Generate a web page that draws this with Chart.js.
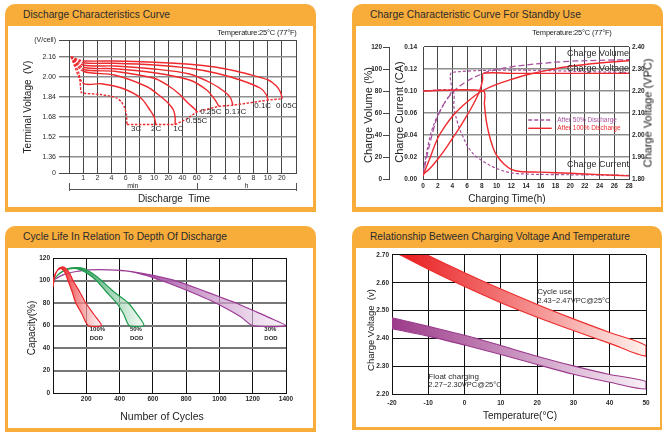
<!DOCTYPE html>
<html>
<head>
<meta charset="utf-8">
<title>Battery characteristics</title>
<script src="https://cdn.jsdelivr.net/npm/chart.js@4.4.1/dist/chart.umd.min.js"></script>
<style>
  html, body { margin: 0; padding: 0; background: #fff; }
  body { position: relative; width: 668px; height: 439px; overflow: hidden; font-family: "Liberation Sans", Arial, sans-serif; color: #222; }
  .panel { position: absolute; background: #f8ad3b; border-radius: 10px 10px 0 0; }
  .panel .title { position: absolute; top: 4px; font-size: 11.5px; line-height: 12px; white-space: nowrap; transform-origin: 0 50%; color: #2b2b2b; }
  .panel .body { position: absolute; background: #fff; }
  .panel canvas { position: absolute; left: 0; top: 0; }
  .t { position: absolute; z-index: 2; color: #222; white-space: nowrap; line-height: 1; transform: translate(-50%, -50%); }
  .v { transform: translate(-50%, -50%) rotate(-90deg); }
</style>
</head>
<body>

<div class="panel" style="left:5px;top:4px;width:311px;height:208px">
  <div class="title" style="left:18px" data-w="147">Discharge Characteristics Curve</div>
  <div class="body" style="left:3px;top:22px;width:305px;height:181px"><canvas id="c1" width="305" height="181"></canvas></div>
</div>
<div class="panel" style="left:352px;top:4px;width:311px;height:208px">
  <div class="title" style="left:18px" data-w="211">Charge Characteristic Curve For Standby Use</div>
  <div class="body" style="left:4px;top:22px;width:305px;height:181px"><canvas id="c2" width="305" height="181"></canvas></div>
</div>
<div class="panel" style="left:5px;top:226px;width:311px;height:206px">
  <div class="title" style="left:18px" data-w="204">Cycle Life In Relation To Depth Of Discharge</div>
  <div class="body" style="left:3px;top:22px;width:305px;height:180px"><canvas id="c3" width="305" height="180"></canvas></div>
</div>
<div class="panel" style="left:352px;top:226px;width:310px;height:204px">
  <div class="title" style="left:18px" data-w="260">Relationship Between Charging Voltage And Temperature</div>
  <div class="body" style="left:4px;top:22px;width:304px;height:179px"><canvas id="c4" width="304" height="179"></canvas></div>
</div>

<!-- axis titles and notes -->
<div class="t v" style="left:28px;top:107px;font-size:10px">Terminal Voltage&nbsp; (V)</div>
<div class="t" style="left:174px;top:199px;font-size:10px">Discharge&nbsp; Time</div>
<div class="t" style="left:257px;top:33px;font-size:7.5px;letter-spacing:-0.2px">Temperature:25°C (77°F)</div>

<div class="t v" style="left:368px;top:115px;font-size:11px">Charge Volume (%)</div>
<div class="t v" style="left:399px;top:112px;font-size:11px">Charge Current (CA)</div>
<div class="t v" style="left:648px;top:113px;font-size:11px;color:#111">Charge Voltage (VPC)</div>
<div class="t" style="left:507px;top:199px;font-size:10px">Charging Time(h)</div>
<div class="t" style="left:572px;top:33px;font-size:7.5px;letter-spacing:-0.2px">Temperature:25°C (77°F)</div>

<div class="t v" style="left:32px;top:328px;font-size:10px">Capacity(%)</div>
<div class="t" style="left:162px;top:416px;font-size:10.5px">Number of Cycles</div>

<div class="t v" style="left:371px;top:330px;font-size:9.5px">Charge Voltage&nbsp; (v)</div>
<div class="t" style="left:520px;top:416px;font-size:10px">Temperature(°C)</div>

<script>
// ---------- Discharge characteristics (x = position on the min/h time axis, y = V/cell)
const timeTickLabels = ['', '1', '2', '4', '6', '8', '10', '20', '40', '60', '2', '4', '6', '8', '10', '20', ''];
const voltTickValues = [1.232, 1.36, 1.52, 1.68, 1.84, 2.00, 2.16, 2.296];
const voltTickLabels = ['0', '1.36', '1.52', '1.68', '1.84', '2.00', '2.16', '(V/cell)'];
const rateLabels = ['3C', '2C', '1C', '0.55C', '0.25C', '0.17C', '0.1C', '0.05C'];
const rateLabelX = [4.73, 6.14, 7.71, 9.0, 10.0, 11.75, 13.65, 15.35];
const rateLabelV = [1.586, 1.586, 1.586, 1.65, 1.722, 1.722, 1.768, 1.768];

const dis3C = [[0.15, 2.16], [0.7, 2.03], [0.85, 1.88], [1, 1.87], [2.2, 1.86], [3, 1.845], [3.4, 1.83], [3.7, 1.8], [3.9, 1.76], [4.05, 1.7], [4.08, 1.62]];
const dis2C = [[0.15, 2.16], [1, 1.95], [2.27, 1.946], [3.75, 1.91], [5.08, 1.83], [5.7, 1.736], [6.0, 1.68], [6.12, 1.62]];
const dis1C = [[0.15, 2.16], [1, 2.046], [3.2, 2.016], [5.5, 1.922], [6.5, 1.84], [7, 1.79], [7.36, 1.736], [7.48, 1.68], [7.48, 1.62]];
const dis055C = [[0.15, 2.16], [1, 2.062], [3.2, 2.046], [6, 1.99], [7, 1.93], [7.7, 1.87], [8.5, 1.78], [8.9, 1.74], [9, 1.72]];
const dis025C = [[0.15, 2.16], [1, 2.078], [3.2, 2.066], [6, 2.034], [8.5, 1.976], [9.7, 1.896], [10.3, 1.816], [10.56, 1.766]];
const dis017C = [[0.15, 2.16], [1, 2.096], [3.2, 2.088], [6, 2.064], [8.5, 2.024], [10.04, 1.95], [10.97, 1.882], [11.4, 1.83], [11.55, 1.774]];
const dis01C = [[0.15, 2.16], [1, 2.114], [3.2, 2.11], [6, 2.096], [8.5, 2.07], [10.4, 2.03], [12.07, 1.976], [13.5, 1.91], [13.9, 1.86], [14.03, 1.815]];
const dis005C = [[0.15, 2.16], [1, 2.13], [3.2, 2.128], [6, 2.118], [8.5, 2.102], [10.4, 2.078], [11.4, 2.056], [12.6, 2.024], [14.05, 1.976], [14.6, 1.93], [14.9, 1.88], [15.03, 1.826]];
const endVoltage = [[4.08, 1.62], [6.12, 1.62], [7.48, 1.62], [8.3, 1.665], [9, 1.72], [10.56, 1.766], [11.55, 1.774], [14.03, 1.815], [15.03, 1.826]];

// ---------- Standby charge (x = hours)
const currentTickLabels = ['0.00', '0.02', '0.04', '0.06', '0.10', '0.12', '0.14'];
const volume100 = [[0, 3], [1, 20], [2, 37], [3, 48], [4, 57], [5, 64], [6, 70], [7, 75.5], [8, 80], [10, 86], [12, 90.5], [14, 94.5], [17, 99], [20, 102.5], [24, 105.5], [28, 107.5]];
const volume50 = [[0, 3], [0.5, 20], [1, 34], [1.5, 47], [2, 57], [3, 70], [4, 78.5], [5, 84.5], [6, 89], [8, 95.5], [10, 99.5], [12, 102], [16, 105], [20, 107], [28, 108.5]];
const voltage100 = [[0, 1.82], [1, 1.85], [2, 1.89], [3, 1.935], [4, 1.985], [5, 2.035], [6, 2.09], [7, 2.15], [7.7, 2.2], [8.1, 2.25], [8.2, 2.28], [12, 2.28], [28, 2.28]];
const voltage50 = [[0, 1.82], [0.5, 1.92], [1, 2.0], [1.5, 2.05], [2, 2.09], [2.5, 2.12], [3, 2.15], [3.5, 2.175], [3.9, 2.2], [4, 2.285], [28, 2.285]];
const current100 = [[0, 0.1], [8.2, 0.1], [8.35, 0.085], [8.6, 0.066], [9, 0.05], [9.5, 0.036], [10, 0.027], [11, 0.017], [12, 0.011], [13.2, 0.0085], [16, 0.0078], [20, 0.0065], [24, 0.005], [28, 0.0035]];
const current50 = [[0, 0.1], [4, 0.1], [4.2, 0.082], [4.5, 0.07], [5, 0.056], [5.5, 0.047], [6, 0.038], [7, 0.027], [8, 0.021], [9, 0.016], [10, 0.012], [11, 0.009], [12, 0.007], [13.5, 0.0058], [16, 0.0052], [20, 0.0048], [28, 0.0042]];

// ---------- Cycle life (x = cycles, y = capacity %)
const dod100Outer = [[0, 94], [10, 103], [30, 110], [52, 112], [75, 111], [100, 106.5], [120, 100], [160, 90], [197, 80], [245, 70], [291, 60]];
const dod100Inner = [[0, 100], [12, 105.5], [30, 109.5], [50, 110.5], [70, 107.5], [90, 100], [115, 90], [137, 80], [175, 70], [211, 60]];
const dod50Outer = [[0, 100], [40, 106.5], [90, 110.5], [141, 111.5], [190, 110.5], [240, 106], [291, 100], [350, 92], [400, 86], [452, 80], [500, 71], [546, 60]];
const dod50Inner = [[0, 100], [30, 105], [70, 109], [110, 110.5], [150, 110.3], [200, 107], [261, 100], [320, 90], [382, 80], [425, 70], [458, 60]];
const dod30Outer = [[0, 100], [60, 105], [140, 108], [220, 109.4], [281, 109.7], [380, 109.2], [482, 107.8], [602, 104.5], [743, 99.5], [884, 92], [1000, 85.5], [1100, 80], [1200, 73.5], [1300, 67], [1400, 60]];
const dod30Inner = [[0, 100], [60, 105], [140, 108], [220, 109.4], [281, 109.7], [380, 109.2], [482, 107.5], [560, 104.5], [650, 100], [750, 94.5], [850, 88.5], [950, 82], [1050, 74.5], [1130, 67.5], [1199, 60]];

// ---------- Charge voltage vs temperature (x = °C, y = V)
const cycleUseUpper = [[-20, 2.765], [-10, 2.698], [0, 2.636], [10, 2.577], [20, 2.522], [30, 2.47], [40, 2.421], [50, 2.374]];
const cycleUseLower = [[-20, 2.715], [-10, 2.648], [0, 2.586], [10, 2.528], [20, 2.476], [30, 2.428], [40, 2.382], [50, 2.336]];
const floatUpper = [[-20, 2.474], [-10, 2.443], [0, 2.411], [10, 2.374], [20, 2.336], [30, 2.301], [40, 2.27], [50, 2.245]];
const floatLower = [[-20, 2.435], [-10, 2.408], [0, 2.376], [10, 2.342], [20, 2.306], [30, 2.271], [40, 2.242], [50, 2.218]];

const FONT = '"Liberation Sans", Arial, sans-serif';
const RED = '#ee2a2f';
const PURPLE = '#a8529e';
const GRID_DARK = '#474747';
const GRID_GRAY = '#8e8e8e';

Chart.defaults.font.family = FONT;
Chart.defaults.color = '#2a2a2a';
Chart.defaults.animation = false;
Chart.defaults.responsive = false;
Chart.defaults.events = [];
Chart.defaults.plugins.legend.display = false;
Chart.defaults.plugins.tooltip.enabled = false;
Chart.defaults.elements.point.radius = 0;
Chart.defaults.elements.line.borderWidth = 1.4;

const xy = arr => arr.map(([x, y]) => ({ x, y }));
const band = (upper, lower) => xy([...upper, ...lower.slice().reverse()]);

// fits panel titles to the measured width of the reference lettering
document.querySelectorAll('[data-w]').forEach(el => {
  const w = el.getBoundingClientRect().width;
  el.style.transform = `scaleX(${el.dataset.w / w})`;
});

function textLayer(items, xId = 'x', yId = 'y') {
  return {
    id: 'textLayer',
    afterDatasetsDraw(chart) {
      const { ctx } = chart;
      const xs = chart.scales[xId], ys = chart.scales[yId];
      ctx.save();
      ctx.textBaseline = 'middle';
      items.forEach(it => {
        ctx.font = it.font;
        ctx.fillStyle = it.color || '#2a2a2a';
        ctx.textAlign = it.align || 'center';
        ctx.fillText(it.text, xs.getPixelForValue(it.x), ys.getPixelForValue(it.y));
      });
      ctx.restore();
    }
  };
}

function hGradient(from, to, x0, x1) {
  return c => {
    const { chart } = c;
    if (!chart.chartArea) return to;
    const xs = chart.scales.x;
    const g = chart.ctx.createLinearGradient(xs.getPixelForValue(x0), 0, xs.getPixelForValue(x1), 0);
    g.addColorStop(0, from);
    g.addColorStop(1, to);
    return g;
  };
}

const edgeTick = n => c => c.index === 0 || c.index === n - 1;

// ================= 1. Discharge characteristics =================
const minHourBracket = {
  id: 'minHourBracket',
  afterDraw(chart) {
    const { ctx, chartArea } = chart;
    const xs = chart.scales.x;
    const y = chartArea.bottom + 16;
    const xa = xs.getPixelForValue(0), xm = xs.getPixelForValue(9), xb = xs.getPixelForValue(16);
    ctx.save();
    ctx.strokeStyle = '#555';
    ctx.lineWidth = 1;
    ctx.beginPath();
    ctx.moveTo(xa, y + 0.5);
    ctx.lineTo(xb, y + 0.5);
    [xa, xm, xb].forEach(x => {
      ctx.moveTo(Math.round(x) + 0.5, y - 6);
      ctx.lineTo(Math.round(x) + 0.5, y + (x === xm ? 0 : 2));
    });
    ctx.stroke();
    ctx.font = '7px ' + FONT;
    ctx.fillStyle = '#2a2a2a';
    ctx.textAlign = 'center';
    ctx.textBaseline = 'middle';
    ctx.fillText('min', (xa + xm) / 2, y - 3);
    ctx.fillText('h', (xm + xb) / 2, y - 3);
    ctx.restore();
  }
};

const solidCurves = [dis2C, dis1C, dis055C, dis025C, dis017C, dis01C, dis005C];
const fanDash = { borderDash: c => (c.p0DataIndex === 0 ? [2.5, 1.5] : undefined) };
const n1 = edgeTick(voltTickValues.length);

new Chart(document.getElementById('c1'), {
  type: 'line',
  data: {
    datasets: [
      ...solidCurves.map((d, i) => ({
        label: rateLabels[i + 1], data: xy(d), borderColor: RED, tension: 0.3, segment: fanDash
      })),
      { label: '3C', data: xy(dis3C), borderColor: RED, borderDash: [2.5, 1.5], tension: 0.2 },
      { label: 'End voltage', data: xy(endVoltage), borderColor: RED, borderDash: [2.5, 1.5], tension: 0 }
    ]
  },
  options: {
    devicePixelRatio: 1,
    layout: { padding: { top: 14, right: 17, left: 0, bottom: 0 } },
    scales: {
      x: {
        type: 'linear', min: 0, max: 16,
        afterBuildTicks: s => { s.ticks = timeTickLabels.map((_, i) => ({ value: i })); },
        afterFit: s => { s.height = 34; },
        ticks: { callback: (v, i) => timeTickLabels[i], font: { size: 7 }, padding: 1, maxRotation: 0, autoSkip: false },
        grid: { color: GRID_DARK, lineWidth: 1, drawTicks: false },
        border: { color: GRID_DARK }
      },
      y: {
        type: 'linear', min: voltTickValues[0], max: voltTickValues[voltTickValues.length - 1],
        afterBuildTicks: s => { s.ticks = voltTickValues.map(v => ({ value: v })); },
        afterFit: s => { s.width = 61; },
        ticks: { callback: (v, i) => voltTickLabels[i], font: { size: 7 }, padding: 3, autoSkip: false },
        grid: {
          color: c => (n1(c) ? GRID_DARK : GRID_GRAY),
          lineWidth: c => (n1(c) ? 1 : 1.6),
          tickLength: 10, tickColor: GRID_DARK, tickWidth: 1
        },
        border: { color: GRID_DARK }
      }
    }
  },
  plugins: [
    minHourBracket,
    textLayer(rateLabels.map((t, i) => ({ text: t, x: rateLabelX[i], y: rateLabelV[i], font: '8px ' + FONT })))
  ]
});

// ================= 2. Standby charge =================
const chargeLegend = {
  id: 'chargeLegend',
  afterDatasetsDraw(chart) {
    const { ctx } = chart;
    const xs = chart.scales.x, ys = chart.scales.yVol;
    const rows = [
      { text: 'After 50% Discharge', color: PURPLE, dash: [4, 2], y: 53.6 },
      { text: 'After 100% Discharge', color: RED, dash: [], y: 46.1 }
    ];
    ctx.save();
    ctx.font = '6.5px ' + FONT;
    ctx.textBaseline = 'middle';
    ctx.textAlign = 'left';
    rows.forEach(r => {
      const y = ys.getPixelForValue(r.y);
      ctx.strokeStyle = r.color;
      ctx.lineWidth = 1.4;
      ctx.setLineDash(r.dash);
      ctx.beginPath();
      ctx.moveTo(xs.getPixelForValue(14.3), y);
      ctx.lineTo(xs.getPixelForValue(17.5), y);
      ctx.stroke();
      ctx.fillStyle = r.color;
      ctx.fillText(r.text, xs.getPixelForValue(18.25), y);
    });
    ctx.restore();
  }
};

const n2 = edgeTick(currentTickLabels.length);

new Chart(document.getElementById('c2'), {
  type: 'line',
  data: {
    datasets: [
      { label: 'Current 100%', data: xy(current100), yAxisID: 'yCur', borderColor: RED, tension: 0.3 },
      { label: 'Voltage 100%', data: xy(voltage100), yAxisID: 'yVolt', borderColor: RED, tension: 0.3 },
      { label: 'Volume 100%', data: xy(volume100), yAxisID: 'yVol', borderColor: RED, tension: 0.4 },
      { label: 'Current 50%', data: xy(current50), yAxisID: 'yCur', borderColor: PURPLE, borderWidth: 1.2, borderDash: [3, 2], tension: 0.3 },
      { label: 'Voltage 50%', data: xy(voltage50), yAxisID: 'yVolt', borderColor: PURPLE, borderWidth: 1.2, borderDash: [3, 2], tension: 0.3 },
      { label: 'Volume 50%', data: xy(volume50), yAxisID: 'yVol', borderColor: PURPLE, borderWidth: 1.3, borderDash: [6, 3], tension: 0.4 }
    ]
  },
  options: {
    devicePixelRatio: 1,
    layout: { padding: { top: 21, right: 0, left: 0, bottom: 0 } },
    scales: {
      x: {
        type: 'linear', min: 0, max: 28,
        afterFit: s => { s.height = 28; },
        ticks: { stepSize: 2, font: { size: 6.5, weight: 'bold' }, padding: 3, maxRotation: 0, autoSkip: false },
        grid: { color: GRID_DARK, lineWidth: 1, drawTicks: false },
        border: { color: GRID_DARK }
      },
      yVol: {
        type: 'linear', position: 'left', weight: 1, min: 0, max: 120,
        afterFit: s => { s.width = 33; },
        ticks: { stepSize: 20, font: { size: 6.5, weight: 'bold' }, padding: 1 },
        grid: { drawOnChartArea: false, tickLength: 6, tickColor: GRID_DARK },
        border: { color: GRID_DARK }
      },
      yCur: {
        type: 'linear', position: 'left', weight: 0, min: 0, max: 0.15,
        afterBuildTicks: s => { s.ticks = currentTickLabels.map((_, i) => ({ value: i * 0.025 })); },
        afterFit: s => { s.width = 34; },
        ticks: { callback: (v, i) => currentTickLabels[i], font: { size: 6.5, weight: 'bold' }, padding: 6, autoSkip: false },
        grid: {
          color: c => (n2(c) ? GRID_DARK : GRID_GRAY),
          lineWidth: c => (n2(c) ? 1 : 1.6),
          drawTicks: false
        },
        border: { color: GRID_DARK }
      },
      yVolt: {
        type: 'linear', position: 'right', min: 1.8, max: 2.4,
        afterFit: s => { s.width = 32; },
        ticks: { stepSize: 0.1, callback: v => v.toFixed(2), font: { size: 6.5, weight: 'bold' }, padding: 3 },
        grid: { drawOnChartArea: false, drawTicks: false },
        border: { color: GRID_DARK }
      }
    }
  },
  plugins: [
    chargeLegend,
    textLayer([
      { text: 'Charge Volume', x: 28, y: 114.3, align: 'right', font: '9px ' + FONT },
      { text: 'Charge Voltage', x: 28, y: 100.6, align: 'right', font: '9px ' + FONT },
      { text: 'Charge Current', x: 28, y: 13.4, align: 'right', font: '9px ' + FONT }
    ], 'x', 'yVol')
  ]
});

// ================= 3. Cycle life =================
const dodBands = [
  { label: '100% DOD', outer: dod100Outer, inner: dod100Inner, line: '#e8262c', from: 'rgba(236,40,44,0.95)', to: 'rgba(253,232,232,0.55)', g0: 60, g1: 291 },
  { label: '50% DOD', outer: dod50Outer, inner: dod50Inner, line: '#1e9a4c', from: 'rgba(30,150,80,0.95)', to: 'rgba(232,246,236,0.55)', g0: 150, g1: 546 },
  { label: '30% DOD', outer: dod30Outer, inner: dod30Inner, line: '#9c3c97', from: 'rgba(150,55,150,0.95)', to: 'rgba(245,232,245,0.55)', g0: 480, g1: 1400 }
];
const dodLabelX = [221, 462, 1270];
const n3 = edgeTick(7);

new Chart(document.getElementById('c3'), {
  type: 'line',
  data: {
    datasets: dodBands.map(b => ({
      label: b.label, data: band(b.outer, b.inner), borderColor: b.line, borderWidth: 1.2,
      backgroundColor: hGradient(b.from, b.to, b.g0, b.g1), fill: 'shape', tension: 0.25
    }))
  },
  options: {
    devicePixelRatio: 1,
    layout: { padding: { top: 10, right: 27, left: 0, bottom: 0 } },
    scales: {
      x: {
        type: 'linear', min: 0, max: 1400,
        afterFit: s => { s.height = 35; },
        ticks: { stepSize: 200, callback: v => (v === 0 ? '' : v), font: { size: 6.5, weight: 'bold' }, padding: 2, maxRotation: 0 },
        grid: { color: '#111', lineWidth: 1, drawTicks: false },
        border: { color: '#111' }
      },
      y: {
        type: 'linear', min: 0, max: 120,
        afterFit: s => { s.width = 45; },
        ticks: { stepSize: 20, font: { size: 6.5, weight: 'bold' }, padding: 3 },
        grid: { color: c => (n3(c) ? '#111' : '#777'), lineWidth: c => (n3(c) ? 1 : 2), drawTicks: false },
        border: { color: '#111' }
      }
    }
  },
  plugins: [
    textLayer(dodBands.flatMap((b, i) => [
      { text: b.label.split(' ')[0], x: dodLabelX[i], y: 56.3, align: 'left', font: 'bold 6px ' + FONT },
      { text: 'DOD', x: dodLabelX[i], y: 49, align: 'left', font: 'bold 6px ' + FONT }
    ]))
  ]
});

// ================= 4. Charging voltage vs temperature =================
new Chart(document.getElementById('c4'), {
  type: 'line',
  data: {
    datasets: [
      {
        label: 'Cycle use', data: band(cycleUseUpper, cycleUseLower), borderColor: '#ee2b2b', borderWidth: 1.1,
        backgroundColor: hGradient('rgb(234,36,38)', 'rgb(254,242,238)', -15, 50), fill: 'shape', tension: 0.3
      },
      {
        label: 'Float charging', data: band(floatUpper, floatLower), borderColor: '#9b3a8c', borderWidth: 1.1,
        backgroundColor: hGradient('rgb(156,58,138)', 'rgb(249,240,247)', -20, 50), fill: 'shape', tension: 0.3
      }
    ]
  },
  options: {
    devicePixelRatio: 1,
    layout: { padding: { top: 6, right: 14, left: 0, bottom: 0 } },
    scales: {
      x: {
        type: 'linear', min: -20, max: 50,
        afterFit: s => { s.height = 33; },
        ticks: { stepSize: 10, font: { size: 6.5, weight: 'bold' }, padding: 5, maxRotation: 0 },
        grid: { color: '#111', lineWidth: 1, drawTicks: false },
        border: { color: '#111' }
      },
      y: {
        type: 'linear', min: 2.2, max: 2.7,
        afterFit: s => { s.width = 36; },
        ticks: { stepSize: 0.1, callback: v => v.toFixed(2), font: { size: 6.5, weight: 'bold' }, padding: 3 },
        grid: { color: '#111', lineWidth: 1, drawTicks: false },
        border: { color: '#111' }
      }
    }
  },
  plugins: [
    textLayer([
      { text: 'Cycle use', x: 20, y: 2.566, align: 'left', font: '8px ' + FONT },
      { text: '2.43~2.47VPC@25°C', x: 20, y: 2.536, align: 'left', font: '7.5px ' + FONT },
      { text: 'Float charging', x: -10, y: 2.263, align: 'left', font: '8px ' + FONT },
      { text: '2.27~2.30VPC@25°C', x: -10, y: 2.231, align: 'left', font: '7.5px ' + FONT }
    ])
  ]
});
</script>
</body>
</html>
